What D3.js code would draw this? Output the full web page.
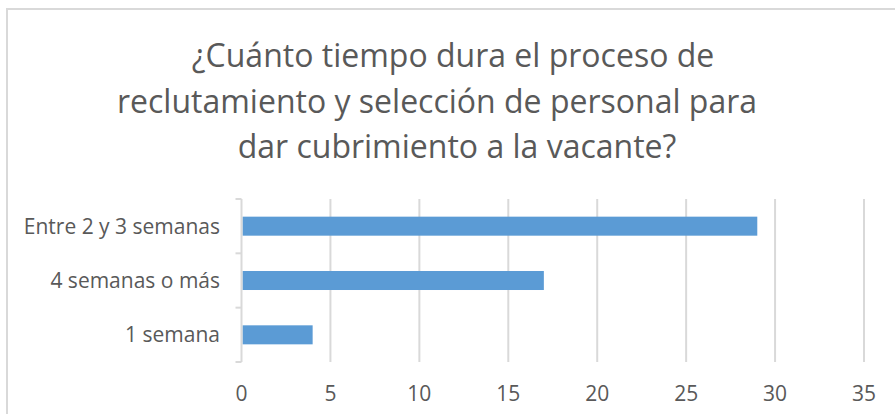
<!DOCTYPE html>
<html>
<head>
<meta charset="utf-8">
<script src="https://cdn.jsdelivr.net/npm/d3@7"></script>
<style>
  body { margin: 0; background: #fff; }
  text { font-family: "Open Sans", Lato, sans-serif; fill: #595959; }
</style>
</head>
<body>
<svg width="895" height="414"></svg>
<script>
// values, top bar first
const categories = ["Entre 2 y 3 semanas", "4 semanas o más", "1 semana"];
const values = [29, 17, 4];
const xTicks = [0, 5, 10, 15, 20, 25, 30, 35];
const titleLines = ["¿Cuánto tiempo dura el proceso de", "reclutamiento y selección de personal para", "dar cubrimiento a la vacante?"];

const data = categories.map((c, i) => ({ category: c, value: values[i] }));

const svg = d3.select("svg");

// chart frame (the image is cropped at right and bottom)
svg.append("rect")
    .attr("x", 7).attr("y", 9)
    .attr("width", 900).attr("height", 420)
    .attr("fill", "#fff")
    .attr("stroke", "#d9d9d9")
    .attr("stroke-width", 2);

svg.append("g")
    .selectAll("text")
    .data(titleLines)
    .enter()
    .append("text")
    .attr("x", (d, i) => [453, 437, 457][i])
    .attr("y", (d, i) => 67 + i * 45.5)
    .attr("text-anchor", "middle")
    .attr("font-size", 32)
    .text(d => d);

const x = d3.scaleLinear()
    .domain([0, 35])
    .range([241.5, 864]);

const y = d3.scaleBand()
    .domain(categories)
    .range([199, 362])
    .paddingInner(0.65)
    .paddingOuter(0.325);

// vertical gridlines
svg.append("g")
    .selectAll("line")
    .data(xTicks.slice(1))
    .enter()
    .append("line")
    .attr("x1", d => x(d)).attr("x2", d => x(d))
    .attr("y1", 199).attr("y2", 362)
    .attr("stroke", "#d9d9d9")
    .attr("stroke-width", 2);

svg.selectAll(".bar")
    .data(data)
    .enter()
    .append("rect")
    .attr("class", "bar")
    .attr("x", x(0) + 1)
    .attr("y", d => y(d.category))
    .attr("width", d => x(d.value) - x(0) - 1)
    .attr("height", y.bandwidth())
    .attr("fill", "#5b9bd5");

// category axis with ticks between bands
const yAxis = svg.append("g");
yAxis.append("line")
    .attr("x1", x(0)).attr("x2", x(0))
    .attr("y1", 199).attr("y2", 362)
    .attr("stroke", "#d9d9d9").attr("stroke-width", 2);
const bounds = [199].concat(categories.map(c => y(c) + y.step() * (1 - 0.325)));
yAxis.selectAll(".tk")
    .data(bounds)
    .enter()
    .append("line")
    .attr("class", "tk")
    .attr("x1", x(0) - 6).attr("x2", x(0))
    .attr("y1", d => d).attr("y2", d => d)
    .attr("stroke", "#d9d9d9").attr("stroke-width", 2);
yAxis.selectAll(".lbl")
    .data(categories)
    .enter()
    .append("text")
    .attr("class", "lbl")
    .attr("x", 220)
    .attr("y", d => y(d) + y.bandwidth() / 2)
    .attr("dy", "0.36em")
    .attr("text-anchor", "end")
    .attr("font-size", 21)
    .text(d => d);

svg.append("g")
    .selectAll("text")
    .data(xTicks)
    .enter()
    .append("text")
    .attr("x", d => x(d))
    .attr("y", 401)
    .attr("text-anchor", "middle")
    .attr("font-size", 21)
    .text(d => d);
</script>
</body>
</html>
